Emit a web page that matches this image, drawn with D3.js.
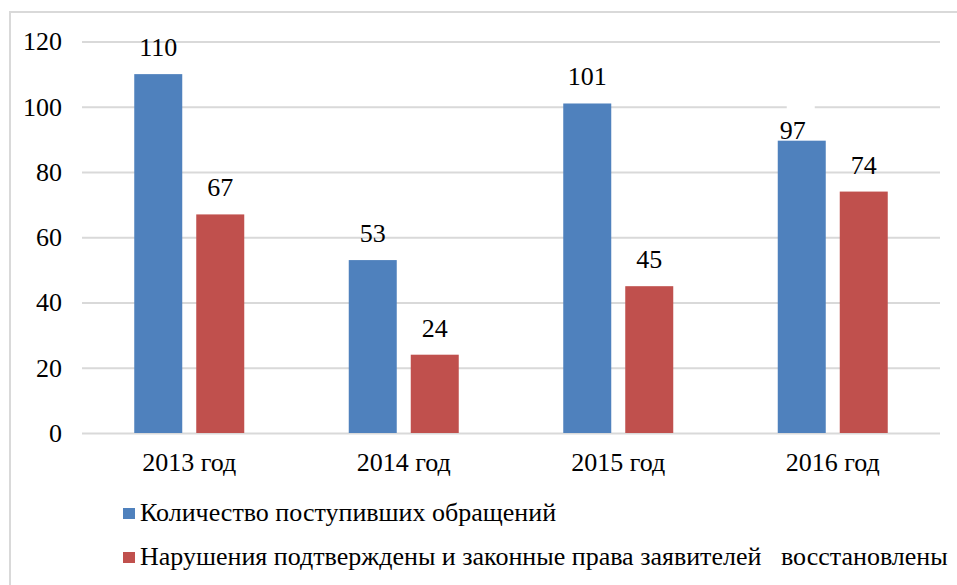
<!DOCTYPE html>
<html>
<head>
<meta charset="utf-8">
<script src="https://cdn.jsdelivr.net/npm/d3@7"></script>
</head>
<body style="margin:0;background:#fff">
<svg id="chart" width="957" height="585"></svg>
<script>
// data
const years = ['2013 год', '2014 год', '2015 год', '2016 год']
const seriesNames = [
    'Количество поступивших обращений',
    'Нарушения подтверждены и законные права заявителей   восстановлены'
]
const received = [110, 53, 101, 89.6]
const confirmed = [67, 24, 45, 74]
// printed labels (the 2016 label does not match its bar in the original)
const receivedLabels = ['110', '53', '101', '97']
const confirmedLabels = ['67', '24', '45', '74']
const yTicks = [0, 20, 40, 60, 80, 100, 120]

const colours = ['#4f81bd', '#c0504d']
const width = 957
const height = 585
let margin = { top: 41.5, right: 17, bottom: 152, left: 82 }
const fontSize = 26
const textStyle = `font-family:serif;font-size:${fontSize}px`

let svg = d3.select('#chart')
    .attr('width', width)
    .attr('height', height)

// outer frame (only top and left visible in the crop)
svg.append('path')
    .attr('d', `M10,${height} V12 H${width}`)
    .attr('fill', 'none')
    .attr('stroke', '#d9d9d9')
    .attr('stroke-width', 2)

let x0 = d3.scaleBand()
    .domain(years)
    .range([margin.left, width - margin.right])
    .padding(0)

let groupWidth = 110
let x1 = d3.scaleBand()
    .domain([0, 1])
    .range([(x0.bandwidth() - groupWidth) / 2, (x0.bandwidth() + groupWidth) / 2])
    .paddingInner(0.2258)

let y = d3.scaleLinear()
    .domain([0, 120])
    .range([height - margin.bottom, margin.top])

// gridlines
let yAxis = d3.axisLeft(y)
    .tickValues(yTicks)
    .tickSize(-(width - margin.left - margin.right))
    .tickPadding(20)

let gAxis = svg.append('g')
    .attr('transform', `translate(${margin.left},0)`)
    .call(yAxis)
gAxis.attr('font-family', null).attr('font-size', null)
gAxis.select('.domain').remove()
gAxis.selectAll('line')
    .attr('stroke', '#d9d9d9')
    .attr('stroke-width', 2)
gAxis.selectAll('text')
    .attr('fill', '#000')
    .attr('style', textStyle)

let series = [received, confirmed]
let labels = [receivedLabels, confirmedLabels]

let groups = svg.append('g')
    .selectAll('g')
    .data(years)
    .join('g')
    .attr('transform', d => `translate(${x0(d)},0)`)

groups.selectAll('rect')
    .data((d, i) => series.map((s, k) => ({ k: k, v: s[i] })))
    .join('rect')
    .attr('x', d => x1(d.k))
    .attr('width', x1.bandwidth())
    .attr('y', d => y(d.v))
    .attr('height', d => y(0) - y(d.v))
    .attr('fill', d => colours[d.k])

// value labels
groups.each(function (year, i) {
    let g = d3.select(this)
    series.forEach((s, k) => {
        let cx = x1(k) + x1.bandwidth() / 2
        let ty = y(s[i]) - 18
        // the 2016 label sits on a white patch right above its bar
        if (labels[k][i] !== String(s[i])) {
            cx -= 9
            ty = y(s[i]) - 2
            g.append('rect')
                .attr('x', cx - 6)
                .attr('y', y(100) - 3)
                .attr('width', 28)
                .attr('height', 6)
                .attr('fill', '#fff')
        }
        g.append('text')
            .attr('x', cx)
            .attr('y', ty)
            .attr('text-anchor', 'middle')
            .attr('style', textStyle)
            .text(labels[k][i])
    })
})

// category labels
svg.append('g')
    .selectAll('text')
    .data(years)
    .join('text')
    .attr('x', d => x0(d) + x0.bandwidth() / 2)
    .attr('y', 471)
    .attr('text-anchor', 'middle')
    .attr('style', textStyle)
    .text(d => d)

// legend
let legend = svg.append('g')
    .selectAll('g')
    .data(seriesNames)
    .join('g')
    .attr('transform', (d, i) => `translate(123,${508 + i * 44})`)

legend.append('rect')
    .attr('width', 12)
    .attr('height', 11)
    .attr('fill', (d, i) => colours[i])

legend.append('text')
    .attr('x', 17)
    .attr('y', 13)
    .attr('style', textStyle + ';white-space:pre')
    .text(d => d)
</script>
</body>
</html>
